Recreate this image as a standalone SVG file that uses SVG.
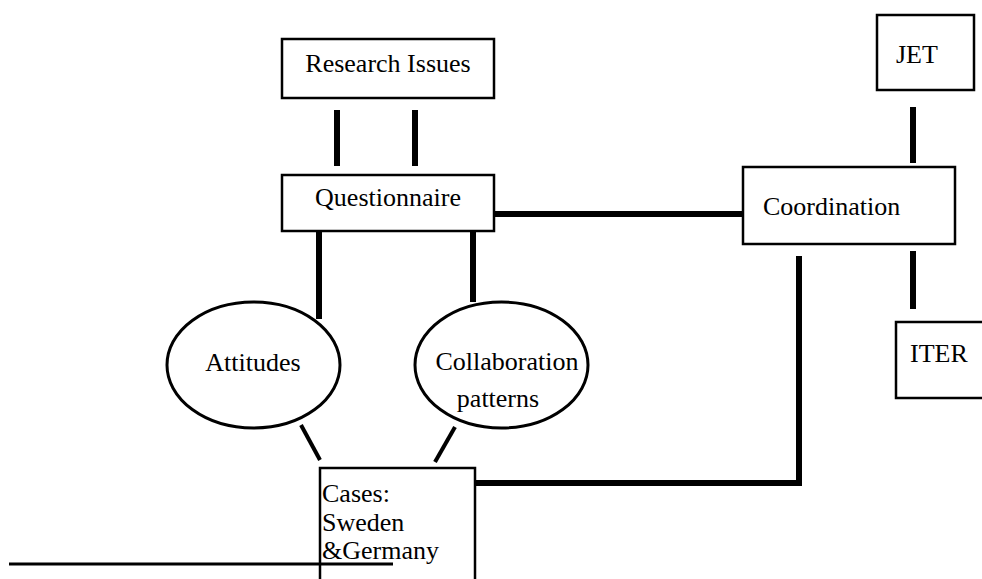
<svg xmlns="http://www.w3.org/2000/svg" width="982" height="579" viewBox="0 0 982 579">
<style>
.box{fill:#fff;stroke:#000;stroke-width:2.5}
.ell{fill:#fff;stroke:#000;stroke-width:3}
.t{font-family:'Liberation Serif','Times New Roman',serif;font-size:26px;fill:#000}
.c{stroke:#000;stroke-width:6;fill:none}
.d{stroke:#000;stroke-width:4;fill:none}
</style>
<rect width="982" height="579" fill="#fff"/>
<g id="connectors">
<line class="c" x1="337" y1="110" x2="337" y2="166"/>
<line class="c" x1="415" y1="110" x2="415" y2="166"/>
<line class="c" x1="494" y1="214" x2="743" y2="214"/>
<line class="c" x1="319" y1="231" x2="319" y2="319"/>
<line class="c" x1="473" y1="231" x2="473" y2="302"/>
<line class="c" x1="913" y1="107" x2="913" y2="163"/>
<line class="c" x1="913" y1="251" x2="913" y2="309"/>
<polyline class="c" points="475,483 799,483 799,256"/>
<line class="d" x1="301" y1="425" x2="320" y2="460"/>
<line class="d" x1="455" y1="427" x2="435" y2="462"/>
</g>
<g id="research-issues">
<rect class="box" x="282" y="39" width="212" height="59"/>
<text class="t" x="388" y="72" text-anchor="middle">Research Issues</text>
</g>
<g id="questionnaire">
<rect class="box" x="282" y="175" width="212" height="56"/>
<text class="t" x="388" y="206" text-anchor="middle">Questionnaire</text>
</g>
<g id="coordination">
<rect class="box" x="743" y="167" width="212" height="77"/>
<text class="t" x="763" y="215">Coordination</text>
</g>
<g id="jet">
<rect class="box" x="877" y="15" width="97" height="75"/>
<text class="t" x="896" y="63">JET</text>
</g>
<g id="iter">
<rect class="box" x="896" y="322" width="100" height="76"/>
<text class="t" x="910" y="362">ITER</text>
</g>
<g id="attitudes">
<ellipse class="ell" cx="253.5" cy="365" rx="86.5" ry="63"/>
<text class="t" x="253" y="371" text-anchor="middle">Attitudes</text>
</g>
<g id="collaboration-patterns">
<ellipse class="ell" cx="501.5" cy="365" rx="86.5" ry="63"/>
<text class="t" x="507" y="370" text-anchor="middle">Collaboration</text>
<text class="t" x="498" y="407" text-anchor="middle">patterns</text>
</g>
<g id="cases">
<rect class="box" x="320" y="468" width="155" height="130"/>
<text class="t" x="322" y="502">Cases:</text>
<text class="t" x="322" y="531">Sweden</text>
<text class="t" x="322" y="559">&amp;Germany</text>
</g>
<line x1="9" y1="564" x2="393" y2="564" stroke="#000" stroke-width="3"/>
</svg>
